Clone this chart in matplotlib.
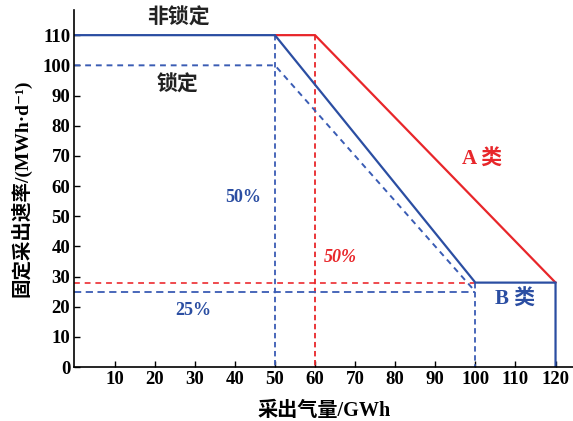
import matplotlib
matplotlib.use("Agg")
import matplotlib.pyplot as plt

plt.rcParams['font.family'] = ['Liberation Serif', 'Noto Sans CJK SC', 'DejaVu Serif']
plt.rcParams['font.weight'] = 'bold'

RED = '#e8262a'
BLUE = '#2b4ea2'
BLUE_D = '#3a5cb4'
RED_D = '#ef4a4e'

# Delivery rate curves (volume in GWh, rate in MWh/d)
class_b_x = [0, 50, 100, 120, 120]
class_b_y = [110, 110, 28, 28, 0]
class_a_x = [50, 60, 120]
class_a_y = [110, 110, 28]
locked_x = [0, 50, 100]
locked_y = [100, 100, 25]

# Reference guide lines
min_rate_a = 28
min_rate_b = 25
half_a = 60
half_b = 50
full_b = 100
max_rate = 110

x_ticks = list(range(10, 130, 10))
y_ticks = list(range(0, 120, 10))

fig = plt.figure(figsize=(5.73, 4.21), dpi=100)
ax = fig.add_axes([0.130, 0.128, 0.871, 0.848])

# dashed guides
ax.plot([0, full_b], [min_rate_a, min_rate_a], ls=(0, (3, 2.5)), color=RED_D, lw=1.4)
ax.plot([half_a, half_a], [max_rate, 0], ls=(0, (3, 2)), color=RED, lw=1.3)
ax.plot([0, full_b], [min_rate_b, min_rate_b], ls=(0, (4, 2.5)), color=BLUE_D, lw=1.3)
ax.plot([half_b, half_b], [max_rate, 0], ls=(0, (3, 2)), color=BLUE_D, lw=1.3)
ax.plot([full_b, full_b], [min_rate_a, 0], ls=(0, (3, 2)), color=BLUE_D, lw=1.3)
ax.plot(locked_x, locked_y, ls=(0, (3, 2.5)), color=BLUE_D, lw=1.4)

# solid curves
ax.plot(class_a_x, class_a_y, color=RED, lw=1.6, solid_joinstyle='miter')
ax.plot(class_b_x, class_b_y, color=BLUE, lw=1.6, solid_joinstyle='miter')

ax.set_xlim(0, 124.5)
ax.set_ylim(0, 118.3)
ax.set_xticks(x_ticks)
ax.set_yticks(y_ticks)
ax.tick_params(direction='in', length=4, width=1, labelsize=13.5, pad=3)
for lab in ax.get_xticklabels() + ax.get_yticklabels():
    lab.set_fontweight('bold')
ax.spines['top'].set_visible(False)
ax.spines['right'].set_visible(False)
for s in ('left', 'bottom'):
    ax.spines[s].set_linewidth(1.2)

ax.set_xlabel('采出气量/GWh', fontsize=14.5, fontweight='bold', labelpad=9)
ax.set_ylabel('固定采出速率/(MWh·d⁻¹)', fontsize=14, fontweight='bold', labelpad=8)

cn = 15
pct = 13
ax.text(25.8, 115.6, '非锁定', fontsize=cn, fontweight='bold', ha='center', va='center', color='#222222')
ax.text(25.8, 93.4, '锁定', fontsize=cn, fontweight='bold', ha='center', va='center', color='#222222')
ax.text(101.6, 68.6, 'A 类', fontsize=cn, fontweight='bold', ha='center', va='center', color=RED)
ax.text(109.9, 22.2, 'B 类', fontsize=cn, fontweight='bold', ha='center', va='center', color=BLUE)
ax.text(42.0, 56.3, '50%', fontsize=pct, fontweight='bold', ha='center', va='center', color=BLUE)
ax.text(66.2, 36.4, '50%', fontsize=pct, fontweight='bold', ha='center', va='center', color=RED, style='italic')
ax.text(29.6, 18.9, '25%', fontsize=pct, fontweight='bold', ha='center', va='center', color=BLUE)

fig.savefig('out.png', dpi=100)
